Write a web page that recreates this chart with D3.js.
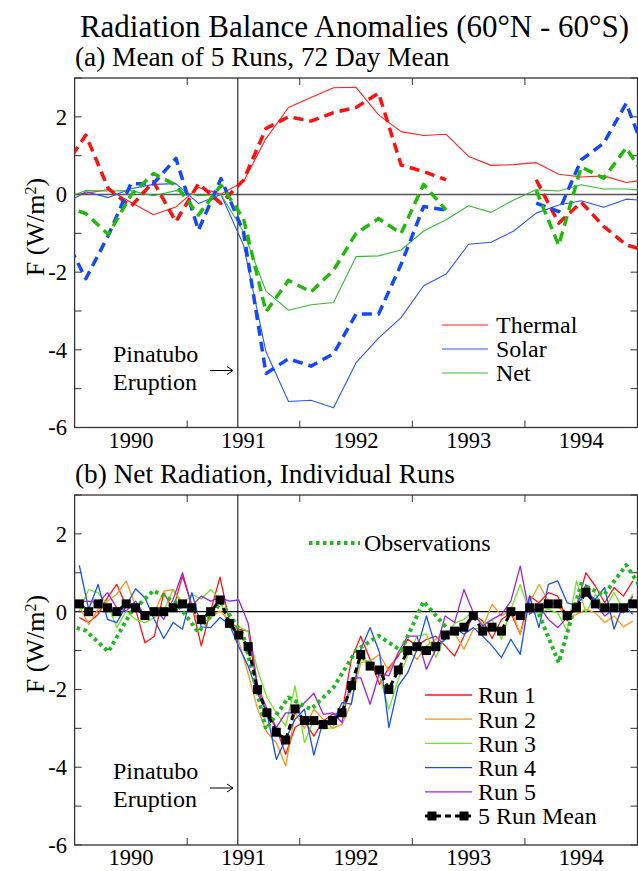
<!DOCTYPE html>
<html>
<head>
<meta charset="utf-8">
<script src="https://cdn.jsdelivr.net/npm/d3@7"></script>
<style>
  body { margin: 0; background: #fff; }
  svg { display: block; }
</style>
</head>
<body>
<svg id="chart" width="638" height="871" font-family="'Liberation Serif', 'Times New Roman', Times, serif"></svg>
<script>
// ---- data -----------------------------------------------------------
// 72 day means, centred times (first and last fall just outside the axis)
const years72 = [1989.9, 1990.1, 1990.3, 1990.5, 1990.7, 1990.9, 1991.1, 1991.3, 1991.5,
  1991.7, 1991.9, 1992.1, 1992.3, 1992.5, 1992.7, 1992.9, 1993.1, 1993.3, 1993.5,
  1993.7, 1993.9, 1994.1, 1994.3, 1994.5, 1994.7, 1994.9, 1995.1];

// model, mean of 5 runs
const thermal = [-0.03, 0.03, 0.13, -0.2, -0.52, -0.32, 0.18, 0.01, 0.33, 1.44, 2.24, 2.5, 2.75,
  2.76, 2.05, 1.62, 1.52, 1.55, 0.98, 0.75, 0.77, 0.82, 0.52, 0.45, 0.48, 0.31, 0.39];
const solar = [-0.27, 0.07, -0.08, 0.15, 0.26, 0.28, -0.23, 0.0, -1.3, -4.05, -5.33, -5.3, -5.49,
  -4.33, -3.7, -3.17, -2.35, -2.05, -1.28, -1.23, -0.94, -0.48, -0.27, -0.16, -0.33, -0.12, -0.16];
const net = [-0.1, 0.1, 0.09, 0.1, -0.03, 0.1, -0.03, 0.0, -0.96, -2.49, -2.98, -2.84, -2.78,
  -1.6, -1.58, -1.43, -0.94, -0.65, -0.29, -0.46, -0.14, 0.12, 0.09, 0.25, 0.14, 0.14, 0.1];

// observations (ERBE), gap in 1993
const thermalObs = [0.67, 1.53, 0.15, -0.31, 0.33, -0.7, 0.28, -0.23, 0.37, 1.7, 2.0, 1.89, 2.11,
  2.24, 2.61, 0.76, 0.59, 0.38, null, null, null, 0.38, -0.74, -0.2, -0.82, -1.3, -1.46];
const solarObs = [-1.03, -2.17, -1.05, 0.28, 0.28, 0.93, -0.92, 0.41, -0.96, -4.61, -4.23, -4.42, -4.1,
  -3.08, -3.08, -1.8, -0.31, -0.4, null, null, null, -0.22, -0.44, 0.89, 1.32, 2.35, 0.81];
const netObs = [-0.31, -0.49, -1.03, -0.02, 0.54, 0.24, -0.53, 0.24, -0.62, -3.02, -2.21, -2.51, -1.95,
  -1.0, -0.62, -1.0, 0.26, -0.4, null, null, null, 0.11, -1.31, 0.71, 0.42, 1.2, 0.3];

// monthly net radiation, Jan 1990 .. Dec 1994
const months = d3.range(60).map(m => 1990 + (m + 0.5) / 12);
const run1 = [-0.15, -0.28, -0.07, 0.36, 0.7, 0.15, 0.06, -0.8, -0.63, 0.49, 0.06, 0.92,
  0.15, -0.88, 0.02, 0.89, -0.24, -0.45, -0.5, -2.0, -2.6, -3.0, -3.67, -2.98,
  -2.81, -3.2, -2.81, -2.64, -2.6, -1.23, -0.63, -1.23, -1.87, -1.44, -1.14, -0.71,
  -0.88, -0.71, -0.63, -0.88, -1.14, -0.63, -0.07, -0.24, -0.69, -0.2, -0.03, -0.58,
  0.4, 0.23, 0.49, 0.4, -0.24, 0.15, 1.0, 0.66, 0.23, 0.62, 0.4, 0.79];
const run2 = [0.15, -0.33, 0.06, 0.27, 0.45, 0.79, 0.15, -0.11, -0.03, 0.53, 0.57, 0.23,
  0.06, -0.33, -0.15, 0.02, -0.24, -0.75, -1.6, -2.5, -3.1, -3.37, -3.97, -2.6,
  -3.0, -2.51, -2.77, -3.0, -2.9, -2.34, -1.31, -1.27, -1.1, -1.53, -1.05, -0.97,
  -1.23, -0.88, -0.71, -0.54, -0.55, -0.97, -0.45, -0.41, 0.19, -0.11, 0.06, -0.58,
  0.23, 0.7, 0.27, 0.15, -0.15, -0.07, 0.06, -0.03, -0.28, -0.11, -0.39, -0.24];
const run3 = [0.02, 0.57, 0.49, 0.19, -0.41, 0.02, -0.2, -0.28, -0.15, 0.02, 0.57, 0.15,
  0.45, 0.32, 0.57, 0.32, -0.41, -0.4, -0.5, -1.5, -2.2, -2.6, -2.94, -1.91,
  -3.37, -2.77, -3.02, -2.98, -2.5, -2.04, -1.23, -1.27, -1.65, -2.51, -1.74, -1.14,
  -0.63, -0.58, -1.18, -0.63, -0.3, -0.2, 0.02, -0.33, -0.2, -0.71, 0.06, 0.7,
  -0.03, -0.03, 0.06, -0.03, -0.5, 0.79, -0.03, 0.45, 0.06, 0.49, 0.06, 0.45];
const run4 = [1.19, 0.06, 0.7, -0.2, -0.28, 0.15, 0.59, 0.36, -0.2, -0.69, -0.28, -0.45,
  0.49, -0.39, -0.41, -0.15, -0.33, -0.9, -1.4, -2.1, -2.6, -3.8, -3.28, -2.77,
  -2.51, -3.69, -2.81, -2.85, -2.34, -2.38, -0.97, -0.41, -1.05, -2.98, -1.91, -1.57,
  -0.97, -0.11, -0.93, -0.71, -0.41, -0.58, -0.41, -0.63, -0.88, -1.18, -0.71, -1.1,
  0.4, -0.41, 0.7, 0.79, 0.23, 0.15, 0.49, 0.32, 0.62, -0.45, 0.19, -0.07];
const run5 = [0.25, 0.27, 0.23, 0.49, 0.1, 0.02, 0.27, -0.11, 0.1, -0.2, 0.32, 1.0,
  0.15, 0.4, 0.27, 0.36, 0.27, 0.3, -0.3, -1.9, -2.5, -2.98, -2.6, -2.6,
  -2.34, -2.1, -2.64, -2.6, -2.85, -1.7, -1.7, -2.38, -1.57, -1.65, -1.05, -0.63,
  -0.63, -1.48, -0.97, -0.11, -0.28, 0.57, -0.03, -0.37, -0.2, -0.07, 0.27, 1.17,
  -0.07, 0.15, -0.2, -0.41, -0.15, 0.15, 0.7, 0.19, -0.11, 0.06, -0.03, 0.4];
const runMean = [0.2, 0, 0.2, 0.1, 0, 0.2, 0.1, -0.1, 0, 0, 0.1, 0.2,
  0.1, -0.2, 0, 0.3, -0.3, -0.6, -0.9, -2.0, -2.6, -3.1, -3.3, -2.5,
  -2.8, -2.8, -2.9, -2.8, -2.6, -1.9, -1.1, -1.4, -1.5, -2.0, -1.5, -1.0,
  -0.9, -1.0, -0.9, -0.6, -0.5, -0.4, -0.1, -0.5, -0.4, -0.5, 0.0, -0.1,
  0.1, 0.1, 0.2, 0.2, -0.1, 0.1, 0.5, 0.2, 0.1, 0.1, 0.1, 0.2];

const yearLabels = ["1990", "1991", "1992", "1993", "1994"];
const eruption = 1991.45;

// ---- layout ---------------------------------------------------------
const svg = d3.select("#chart");
const left = 74.6, right = 637.5;
const x = d3.scaleLinear().domain([1990, 1995]).range([left, right]);

const fontTick = 22.5, fontLegend = 24;

svg.append("text").attr("x", 354.5).attr("y", 37).attr("text-anchor", "middle")
  .attr("font-size", 31).text("Radiation Balance Anomalies (60°N - 60°S)");

function panel(top, bottom, subtitle, id) {
  const y = d3.scaleLinear().domain([-6, 3]).range([bottom, top]);
  const g = svg.append("g");

  g.append("text").attr("x", 75).attr("y", top - 12)
    .attr("font-size", 27.3).text(subtitle);

  g.append("clipPath").attr("id", id).append("rect")
    .attr("x", left).attr("y", top).attr("width", right - left).attr("height", bottom - top);

  // zero line and eruption marker
  g.append("line").attr("x1", left).attr("x2", right).attr("y1", y(0)).attr("y2", y(0))
    .attr("stroke", id === "clipA" ? "#555" : "#000").attr("stroke-width", id === "clipA" ? 1.6 : 1.2);
  g.append("line").attr("x1", x(eruption)).attr("x2", x(eruption)).attr("y1", top).attr("y2", bottom)
    .attr("stroke", "#000").attr("stroke-width", 1);

  // frame
  g.append("rect").attr("x", left).attr("y", top).attr("width", right - left).attr("height", bottom - top)
    .attr("fill", "none").attr("stroke", "#333").attr("stroke-width", 1.3);

  // inward ticks
  d3.range(-6, 4).forEach(v => {
    g.append("line").attr("x1", left).attr("x2", left + 7).attr("y1", y(v)).attr("y2", y(v)).attr("stroke", "#333");
    g.append("line").attr("x1", right - 7).attr("x2", right).attr("y1", y(v)).attr("y2", y(v)).attr("stroke", "#333");
  });
  [-6, -4, -2, 0, 2].forEach(v => {
    g.append("text").attr("x", 67).attr("y", y(v)).attr("dy", "0.35em").attr("text-anchor", "end")
      .attr("font-size", fontTick).text(v < 0 ? "-" + Math.abs(v) : v);
  });
  [1991, 1992, 1993, 1994].forEach(v => {
    g.append("line").attr("x1", x(v)).attr("x2", x(v)).attr("y1", top).attr("y2", top + 7).attr("stroke", "#333");
    g.append("line").attr("x1", x(v)).attr("x2", x(v)).attr("y1", bottom - 7).attr("y2", bottom).attr("stroke", "#333");
  });
  yearLabels.forEach((s, i) => {
    g.append("text").attr("x", x(1990.5 + i)).attr("y", bottom + 20).attr("text-anchor", "middle")
      .attr("font-size", fontTick).text(s);
  });

  // axis title
  const yl = g.append("text").attr("transform", `translate(44,${top + 149}) rotate(-90)`)
    .attr("text-anchor", "middle").attr("font-size", 26);
  yl.append("tspan").text("F (W/m");
  yl.append("tspan").attr("baseline-shift", "super").attr("font-size", 16).text("2");
  yl.append("tspan").text(")");

  // Pinatubo note with a thin arrow
  g.append("text").attr("x", 113).attr("y", bottom - 66).attr("font-size", fontLegend).text("Pinatubo");
  g.append("text").attr("x", 113).attr("y", bottom - 38).attr("font-size", fontLegend).text("Eruption");
  const ay = bottom - 57;
  g.append("line").attr("x1", 210).attr("x2", 233).attr("y1", ay).attr("y2", ay).attr("stroke", "#000").attr("stroke-width", 1);
  g.append("path").attr("d", `M227,${ay - 4} L233,${ay} L227,${ay + 4}`)
    .attr("fill", "none").attr("stroke", "#000").attr("stroke-width", 1);

  const plot = g.append("g").attr("clip-path", `url(#${id})`);
  return { y, g, plot };
}

function drawLine(plot, y, xs, vals, color, width, dash) {
  const line = d3.line().defined(d => d[1] != null).x(d => x(d[0])).y(d => y(d[1]));
  plot.append("path").datum(xs.map((t, i) => [t, vals[i]]))
    .attr("d", line).attr("fill", "none").attr("stroke", color)
    .attr("stroke-width", width).attr("stroke-dasharray", dash || null)
    .attr("stroke-linejoin", "round");
}

// ---- panel (a) ------------------------------------------------------
const A = panel(78, 427.5, "(a) Mean of 5 Runs, 72 Day Mean", "clipA");
const seriesA = [
  { name: "Thermal", vals: thermal, obs: thermalObs, color: "#ff2020", dcolor: "#ff1010" },
  { name: "Solar", vals: solar, obs: solarObs, color: "#2a55ff", dcolor: "#1448ff" },
  { name: "Net", vals: net, obs: netObs, color: "#35b835", dcolor: "#22b80e" }
];
seriesA.forEach(s => drawLine(A.plot, A.y, years72, s.vals, s.color, 1.1));
seriesA.forEach(s => drawLine(A.plot, A.y, years72, s.obs, s.dcolor, 3.5, "10,6"));

seriesA.forEach((s, i) => {
  const yy = 325 + i * 24;
  A.g.append("line").attr("x1", 442).attr("x2", 488).attr("y1", yy).attr("y2", yy)
    .attr("stroke", s.color).attr("stroke-width", 1.2);
  A.g.append("text").attr("x", 496).attr("y", yy).attr("dy", "0.35em")
    .attr("font-size", fontLegend).text(s.name);
});

// ---- panel (b) ------------------------------------------------------
const B = panel(495, 845, "(b) Net Radiation, Individual Runs", "clipB");
const runs = [
  { name: "Run 1", vals: run1, color: "#ff1414" },
  { name: "Run 2", vals: run2, color: "#ff9218" },
  { name: "Run 3", vals: run3, color: "#74e424" },
  { name: "Run 4", vals: run4, color: "#1450ff" },
  { name: "Run 5", vals: run5, color: "#9b24e4" }
];
runs.forEach(r => drawLine(B.plot, B.y, months, r.vals, r.color, 1.3));
drawLine(B.plot, B.y, years72, netObs, "#22b822", 4, "3.5,3.5");
drawLine(B.plot, B.y, months, runMean, "#000", 3, "6,4");
B.plot.selectAll("rect.mk").data(months).join("rect").attr("class", "mk")
  .attr("x", d => x(d) - 4.5).attr("y", (d, i) => B.y(runMean[i]) - 4.5)
  .attr("width", 9).attr("height", 9).attr("fill", "#000");

// legends
B.g.append("line").attr("x1", 309).attr("x2", 360).attr("y1", 543).attr("y2", 543)
  .attr("stroke", "#22b822").attr("stroke-width", 4).attr("stroke-dasharray", "3.5,3.5");
B.g.append("text").attr("x", 364).attr("y", 543).attr("dy", "0.35em")
  .attr("font-size", fontLegend).text("Observations");

runs.forEach((r, i) => {
  const yy = 695 + i * 24.2;
  B.g.append("line").attr("x1", 425).attr("x2", 472).attr("y1", yy).attr("y2", yy)
    .attr("stroke", r.color).attr("stroke-width", 1.3);
  B.g.append("text").attr("x", 478).attr("y", yy).attr("dy", "0.35em")
    .attr("font-size", fontLegend).text(r.name);
});
const ym = 695 + 5 * 24.2;
B.g.append("line").attr("x1", 425).attr("x2", 472).attr("y1", ym).attr("y2", ym)
  .attr("stroke", "#000").attr("stroke-width", 3).attr("stroke-dasharray", "6,4");
[432, 464].forEach(px => {
  B.g.append("rect").attr("x", px - 4.5).attr("y", ym - 4.5).attr("width", 9).attr("height", 9).attr("fill", "#000");
});
B.g.append("text").attr("x", 478).attr("y", ym).attr("dy", "0.35em")
  .attr("font-size", fontLegend).text("5 Run Mean");
</script>
</body>
</html>
